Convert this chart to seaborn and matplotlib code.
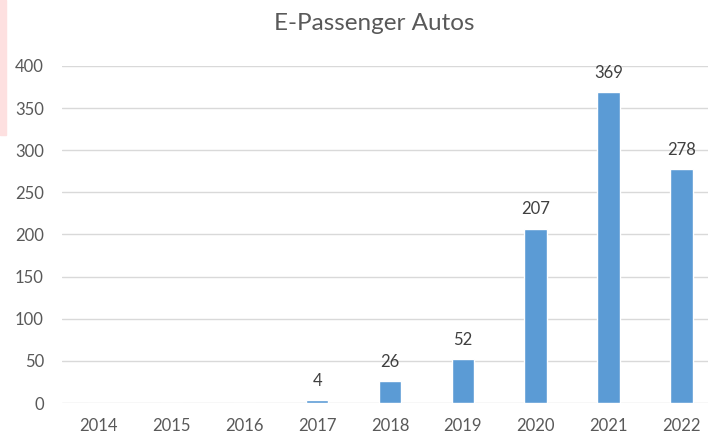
import matplotlib
matplotlib.use("Agg")
import matplotlib.pyplot as plt
from matplotlib.patches import Rectangle
import seaborn as sb
import pandas as pd

years = ["2014", "2015", "2016", "2017", "2018", "2019", "2020", "2021", "2022"]
sales = [0, 0, 0, 4, 26, 52, 207, 369, 278]
y_ticks = [0, 50, 100, 150, 200, 250, 300, 350, 400]

df = pd.DataFrame({"year": years, "sales": sales})

sb.set_style("white")
plt.rcParams['font.family'] = ['Lato', 'DejaVu Sans']

text_color = '#595959'
bar_color = '#5B9BD5'

fig = plt.figure(figsize=[7.08, 4.36], dpi=100)
ax = fig.add_axes([62 / 708, 33 / 436, 656 / 708, 337 / 436])

sb.barplot(data=df, x="year", y="sales", color=bar_color, width=0.31,
           saturation=1, ax=ax, zorder=3)

ax.set_ylim(0, 400)
ax.set_yticks(y_ticks)
ax.grid(axis='y', color='#D9D9D9', linewidth=1, zorder=0)
for s in ax.spines.values():
    s.set_visible(False)
ax.set_xlabel("")
ax.set_ylabel("")
ax.tick_params(axis='y', length=0, pad=13, labelsize=12, labelcolor=text_color)
ax.tick_params(axis='x', length=0, pad=11, labelsize=12, labelcolor=text_color)

labels = [str(v) if v > 0 else "" for v in sales]
ax.bar_label(ax.containers[0], labels=labels, padding=8, fontsize=12, color='#404040')

fig.text(374 / 708, 1 - 24 / 436, "E-Passenger Autos", ha='center', va='center',
         fontsize=17.5, color=text_color)

fig.patches.append(Rectangle((0, 1 - 135 / 436), 6 / 708, 135 / 436,
                             transform=fig.transFigure, color='#FDE0E0', zorder=0))

fig.savefig("out.png", dpi=100)
